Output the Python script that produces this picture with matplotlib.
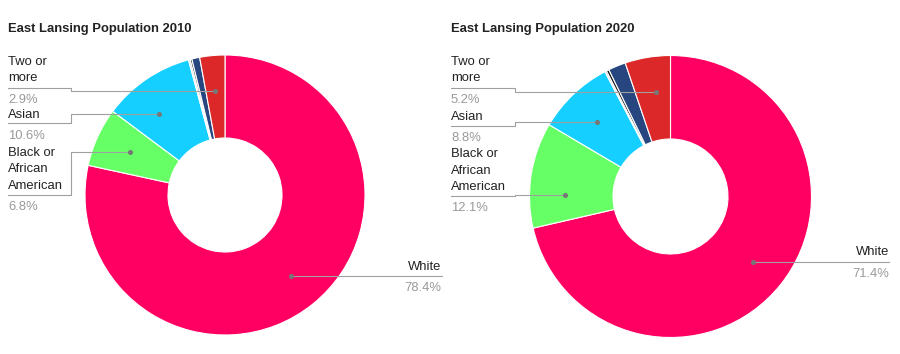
import numpy as np
import matplotlib.pyplot as plt

plt.rcParams['font.family'] = ['Liberation Sans', 'DejaVu Sans']

# slices, clockwise from 12 o'clock
groups = ['White', 'Black or African American', 'Asian', 'Pacific Islander',
          'American Indian', 'Some other race', 'Two or more']
pop_2010 = [78.4, 6.8, 10.6, 0.2, 0.2, 0.9, 2.9]
pop_2020 = [71.4, 12.1, 8.8, 0.2, 0.3, 2.0, 5.2]
colors = ['#ff0062', '#66ff66', '#14cfff', '#c9d3e6', '#111111', '#27467f', '#dc2828']
titles = ['East Lansing Population 2010', 'East Lansing Population 2020']

# which slices get a label, and the text shown
shown = {6: ['Two or', 'more'], 2: ['Asian'], 1: ['Black or', 'African', 'American']}

W, H = 900, 354
FS = 9.4
fig = plt.figure(figsize=(W / 100, H / 100), dpi=100)
ax = fig.add_axes([0, 0, 1, 1])

# layout (pixels, top-down): name line centers, leader y, pct y, anchor y in slice
charts = [
    dict(vals=pop_2010, title=titles[0], x0=8, cx=225, cy=195, R=140, rin=57, step=71,
         lab={6: ([60.7, 76.7], 87.7, 98.3, 91), 2: ([113.3], 123.3, 134.3, 114),
              1: ([151, 167.7, 184.3], 195, 205, 152.3)},
         white_right=441.7),
    dict(vals=pop_2020, title=titles[1], x0=451, cx=670.5, cy=196.5, R=141, rin=57.5, step=515,
         lab={6: ([60, 76.7], 87.7, 98.3, 92.3), 2: ([115], 126, 136, 121.7),
              1: ([152.3, 169.3, 185.7], 195.7, 206, 194.7)},
         white_right=889),
]

line_c = '#a0a0a0'
dot_c = '#777777'
pct_c = '#9a9a9a'
off = 4.7  # center -> baseline

for c in charts:
    vals = np.array(c['vals'])
    # y axis points down, so counterclock=True draws clockwise on screen
    ax.pie(vals, colors=colors, startangle=-90, counterclock=True,
           radius=c['R'], center=(c['cx'], c['cy']),
           wedgeprops=dict(width=c['R'] - c['rin'], edgecolor='white', linewidth=0.8))
    ax.text(c['x0'], 27 + off, c['title'], fontsize=FS, fontweight='bold',
            color='#222222', va='baseline')

    tot = vals.sum()
    cum = np.concatenate([[0], np.cumsum(vals)[:-1]])
    mid = np.radians(-90 + 360 * (cum + vals / 2) / tot)
    ra = 0.746 * c['R']
    dx = c['cx'] + ra * np.cos(mid)
    dy = c['cy'] + ra * np.sin(mid)

    for i, names in shown.items():
        ny, ly, py, ay = c['lab'][i]
        # anchor on the mid-ring circle at the leader's height (left side)
        ax_ = c['cx'] - np.sqrt(max(ra ** 2 - (ay - c['cy']) ** 2, 0))
        for t, y in zip(names, ny):
            ax.text(c['x0'], y + off, t, fontsize=FS, color='#222222', va='baseline')
        ax.text(c['x0'], py + off, f'{vals[i]:.1f}%', fontsize=FS, color=pct_c, va='baseline')
        ax.plot([c['x0'], c['step'], c['step'], ax_], [ly, ly, ay, ay],
                color=line_c, lw=0.8)
        ax.plot(ax_, ay, 'o', ms=2.6, color=dot_c)

    # White label on the right
    ax.plot([dx[0], c['white_right']], [dy[0], dy[0]], color=line_c, lw=0.8)
    ax.plot(dx[0], dy[0], 'o', ms=2.6, color=dot_c)
    ax.text(c['white_right'], dy[0] - 11.5 + off, groups[0], fontsize=FS,
            color='#222222', va='baseline', ha='right')
    ax.text(c['white_right'], dy[0] + 10 + off, f'{vals[0]:.1f}%', fontsize=FS,
            color=pct_c, va='baseline', ha='right')

ax.set_xlim(0, W)
ax.set_ylim(H, 0)
ax.axis('off')

fig.savefig('out.png', dpi=100)
